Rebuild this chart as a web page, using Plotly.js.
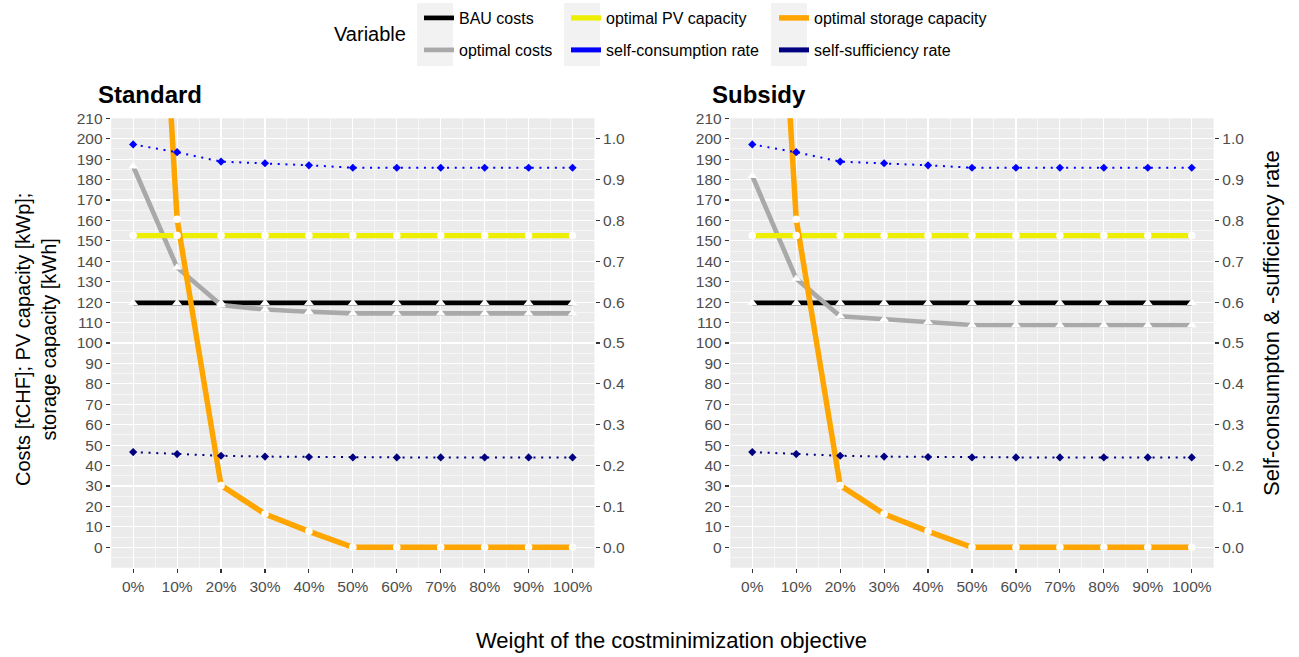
<!DOCTYPE html>
<html>
<head>
<meta charset="utf-8">
<script src="https://cdn.plot.ly/plotly-3.0.1.min.js"></script>
<style>html,body{margin:0;padding:0;background:#fff;}#chart{width:1299px;height:657px;}</style>
</head>
<body>
<div id="chart"></div>
<script>
// ---- data ----
const weights = [0, 10, 20, 30, 40, 50, 60, 70, 80, 90, 100];
const weightLabels = ["0%", "10%", "20%", "30%", "40%", "50%", "60%", "70%", "80%", "90%", "100%"];
const panels = ["Standard", "Subsidy"];
const variables = ["BAU costs", "optimal costs", "optimal PV capacity", "optimal storage capacity", "self-consumption rate", "self-sufficiency rate"];

const bauStd  = [119.6, 119.6, 119.6, 119.6, 119.6, 119.6, 119.6, 119.6, 119.6, 119.6, 119.6];
const optCostStd = [186.5, 137.0, 118.6, 116.4, 115.3, 114.5, 114.5, 114.5, 114.5, 114.5, 114.5];
const pvStd   = [152.6, 152.6, 152.6, 152.6, 152.6, 152.6, 152.6, 152.6, 152.6, 152.6, 152.6];
const storStd = [528, 160.6, 30.3, 16.3, 7.8, 0, 0, 0, 0, 0, 0];
const scStd   = [0.986, 0.967, 0.944, 0.940, 0.935, 0.929, 0.929, 0.929, 0.929, 0.929, 0.929];
const ssStd   = [0.233, 0.228, 0.224, 0.222, 0.221, 0.220, 0.220, 0.220, 0.220, 0.220, 0.220];

const bauSub  = [119.6, 119.6, 119.6, 119.6, 119.6, 119.6, 119.6, 119.6, 119.6, 119.6, 119.6];
const optCostSub = [181.8, 131.5, 113.1, 111.5, 110.3, 108.8, 108.8, 108.8, 108.8, 108.8, 108.8];
const pvSub   = [152.6, 152.6, 152.6, 152.6, 152.6, 152.6, 152.6, 152.6, 152.6, 152.6, 152.6];
const storSub = [520, 160.6, 30.3, 16.3, 7.8, 0, 0, 0, 0, 0, 0];
const scSub   = [0.986, 0.967, 0.944, 0.940, 0.935, 0.929, 0.929, 0.929, 0.929, 0.929, 0.929];
const ssSub   = [0.233, 0.228, 0.224, 0.222, 0.221, 0.220, 0.220, 0.220, 0.220, 0.220, 0.220];

const leftTicks = [0,10,20,30,40,50,60,70,80,90,100,110,120,130,140,150,160,170,180,190,200,210];
const rightTicks = [0,0.1,0.2,0.3,0.4,0.5,0.6,0.7,0.8,0.9,1.0];

// ---- styling ----
const W = 1299, H = 657;
const colors = {"BAU costs":"#000000","optimal costs":"#A9A9A9","optimal PV capacity":"#EEEE00",
  "optimal storage capacity":"#FFA500","self-consumption rate":"#0000FF","self-sufficiency rate":"#000080"};
const widths = {"BAU costs":4.7,"optimal costs":4.7,"optimal PV capacity":5.3,"optimal storage capacity":5.5};
const font = "Liberation Sans, Arial, Helvetica, sans-serif";
const legendIds = {"BAU costs":"legend","optimal costs":"legend2","optimal PV capacity":"legend3",
  "self-consumption rate":"legend4","optimal storage capacity":"legend5","self-sufficiency rate":"legend6"};

const panelData = [
  {cost:[bauStd, optCostStd], cap:[pvStd, storStd], rate:[scStd, ssStd], xa:"x", ya:"y", ya2:"y2"},
  {cost:[bauSub, optCostSub], cap:[pvSub, storSub], rate:[scSub, ssSub], xa:"x2", ya:"y3", ya2:"y4"}
];

const traces = [];
panelData.forEach((p, pi) => {
  const primary = [[variables[0], p.cost[0], "triangle-up"], [variables[1], p.cost[1], "triangle-up"],
                   [variables[2], p.cap[0], "circle"], [variables[3], p.cap[1], "circle"]];
  primary.forEach(([name, vals]) => {
    traces.push({type:"scatter", mode:"lines", x:weights, y:vals, name:name, xaxis:p.xa, yaxis:p.ya,
      line:{color:colors[name], width:widths[name]}, showlegend: pi===0, legend: legendIds[name],
      hoverinfo:"x+y+name"});
  });
  primary.forEach(([name, vals, sym]) => {
    traces.push({type:"scatter", mode:"markers", x:weights, y:vals, name:name, xaxis:p.xa, yaxis:p.ya,
      marker:{color:"#FFFFFF", size: sym==="circle"?7.5:8.5, symbol:sym, line:{width:0}}, showlegend:false});
  });
  [[variables[4], p.rate[0]], [variables[5], p.rate[1]]].forEach(([name, vals]) => {
    traces.push({type:"scatter", mode:"lines+markers", x:weights, y:vals, name:name, xaxis:p.xa, yaxis:p.ya2,
      line:{color:colors[name], width:2, dash:"2px,5.7px"},
      marker:{color:colors[name], size:6.3, symbol:"diamond", line:{width:0}}, showlegend:false});
    if (pi === 0) {
      // legend key (solid bar like the reference legend)
      traces.push({type:"scatter", mode:"lines", x:[null], y:[null], name:name, xaxis:p.xa, yaxis:p.ya2,
        line:{color:colors[name], width:5}, showlegend:true, legend: legendIds[name]});
    }
  });
});

const px = v => v / W;
const py = v => 1 - v / H;
const yDom = [py(567.7), py(118.3)];
const tickFont = {family:font, size:15.5, color:"#4D4D4D"};

function xAxis(dom, anchor) {
  return {domain:dom, anchor:anchor, range:[-5,105], tickmode:"array", tickvals:weights, ticktext:weightLabels,
    ticks:"outside", ticklen:4.5, tickwidth:1.1, tickcolor:"#333333", tickfont:tickFont,
    showgrid:true, gridcolor:"#FFFFFF", gridwidth:1.1, zeroline:false, showline:false,
    minor:{tickvals:[5,15,25,35,45,55,65,75,85,95], showgrid:true, gridcolor:"#FFFFFF", gridwidth:0.55, ticks:""},
    fixedrange:true};
}
function yAxis(anchor) {
  return {domain:yDom, anchor:anchor, range:[-10,210], tickmode:"array", tickvals:leftTicks,
    ticks:"outside", ticklen:4.5, tickwidth:1.1, tickcolor:"#333333", tickfont:tickFont,
    showgrid:true, gridcolor:"#FFFFFF", gridwidth:1.1, zeroline:false, showline:false,
    minor:{tickvals:[-5,5,15,25,35,45,55,65,75,85,95,105,115,125,135,145,155,165,175,185,195,205], showgrid:true, gridcolor:"#FFFFFF", gridwidth:0.55, ticks:""},
    fixedrange:true};
}
function yAxisR(over, anchor) {
  return {overlaying:over, anchor:anchor, side:"right", range:[-0.05,1.05], tickmode:"array", tickvals:rightTicks, tickformat:".1f",
    ticks:"outside", ticklen:4.5, tickwidth:1.1, tickcolor:"#333333", tickfont:tickFont,
    showgrid:false, zeroline:false, showline:false, fixedrange:true};
}

function legendAt(textX, yc) {
  return {x:px(textX - 40), y:py(yc), xanchor:"left", yanchor:"middle", orientation:"v",
    bgcolor:"rgba(0,0,0,0)", borderwidth:0, itemwidth:30,
    font:{family:font, size:16, color:"#000000"}};
}

const layout = {
  width:W, height:H, margin:{l:0, r:0, t:0, b:0}, paper_bgcolor:"#FFFFFF", plot_bgcolor:"#EBEBEB",
  font:{family:font},
  xaxis: xAxis([px(111.2), px(594.5)], "y"),
  yaxis: yAxis("x"),
  yaxis2: yAxisR("y", "x"),
  xaxis2: xAxis([px(730.3), px(1213.7)], "y3"),
  yaxis3: yAxis("x2"),
  yaxis4: yAxisR("y3", "x2"),
  legend: legendAt(459, 18),
  legend2: legendAt(459, 50),
  legend3: legendAt(606, 18),
  legend4: legendAt(606, 50),
  legend5: legendAt(814, 18),
  legend6: legendAt(814, 50),
  shapes: [
    {type:"rect", xref:"paper", yref:"paper", x0:px(417), x1:px(453), y0:py(66), y1:py(3), fillcolor:"#F2F2F2", line:{width:0}, layer:"below"},
    {type:"rect", xref:"paper", yref:"paper", x0:px(564), x1:px(600), y0:py(66), y1:py(3), fillcolor:"#F2F2F2", line:{width:0}, layer:"below"},
    {type:"rect", xref:"paper", yref:"paper", x0:px(771), x1:px(807), y0:py(66), y1:py(3), fillcolor:"#F2F2F2", line:{width:0}, layer:"below"}
  ],
  annotations: [
    {text:"<b>" + panels[0] + "</b>", xref:"paper", yref:"paper", x:px(96), y:py(95), xanchor:"left", yanchor:"middle", showarrow:false, font:{family:font, size:24, color:"#000"}},
    {text:"<b>" + panels[1] + "</b>", xref:"paper", yref:"paper", x:px(710), y:py(95), xanchor:"left", yanchor:"middle", showarrow:false, font:{family:font, size:24, color:"#000"}},
    {text:"Variable", xref:"paper", yref:"paper", x:px(370), y:py(34), xanchor:"center", yanchor:"middle", showarrow:false, font:{family:font, size:20, color:"#000"}},
    {text:"Weight of the costminimization objective", xref:"paper", yref:"paper", x:px(671), y:py(640), xanchor:"center", yanchor:"middle", showarrow:false, font:{family:font, size:22, color:"#000"}},
    {text:"Costs [tCHF]; PV capacity [kWp];<br>storage capacity [kWh]", xref:"paper", yref:"paper", x:px(36), y:py(340), xanchor:"center", yanchor:"middle", textangle:-90, showarrow:false, font:{family:font, size:20, color:"#000"}},
    {text:"Self-consumpton & -sufficiency rate", xref:"paper", yref:"paper", x:px(1272), y:py(323), xanchor:"center", yanchor:"middle", textangle:-90, showarrow:false, font:{family:font, size:22, color:"#000"}}
  ]
};

Plotly.newPlot("chart", traces, layout, {displayModeBar:false, staticPlot:true});
</script>
</body>
</html>
